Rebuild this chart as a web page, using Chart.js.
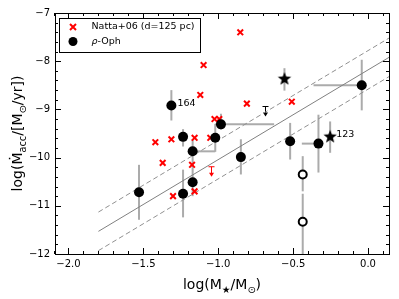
<!DOCTYPE html>
<html lang="en">
<head>
<meta charset="UTF-8">
<title>Accretion rate vs stellar mass</title>
<script src="https://cdn.jsdelivr.net/npm/chart.js"></script>
<style>
  html, body { margin: 0; padding: 0; background: #fff; }
  #wrap { width: 399px; height: 299px; position: relative; }
</style>
</head>
<body>
<div id="wrap"><canvas id="chart"></canvas></div>
<script>
// axis ticks
const xTickVals = [-2.0, -1.5, -1.0, -0.5, 0.0];
const yTickVals = [-12, -11, -10, -9, -8, -7];

// Natta+06 (d=125 pc) - red crosses
const nattaX = [-0.853, -1.098, -1.12, -0.809, -0.509, -1.025, -0.993, -1.42, -1.313, -1.158, -1.053, -1.371, -1.175, -1.302, -1.158];
const nattaY = [-7.40, -8.08, -8.70, -8.88, -8.84, -9.20, -9.20, -9.68, -9.62, -9.59, -9.59, -10.11, -10.15, -10.80, -10.70];
// Natta upper limit
const nattaLimX = [-1.049];
const nattaLimY = [-10.19];

// rho-Oph filled dots with error bars
const ophX   = [-1.313, -1.235, -0.982, -1.02, -1.171, -1.171, -1.529, -1.235, -0.849, -0.52, -0.331, -0.042];
const ophY   = [-8.92, -9.57, -9.31, -9.59, -9.87, -10.51, -10.72, -10.75, -9.99, -9.66, -9.71, -8.50];
const ophYLo = [-9.23, -9.77, -9.42, -9.88, -10.2, -10.8, -11.29, -11.24, -10.35, -10.04, -10.31, -9.02];
const ophYHi = [-8.60, -9.41, -9.09, -9.30, -9.63, -10.2, -10.15, -10.25, -9.62, -9.28, -9.11, -7.97];
const ophXLo = [null, null, -1.02, null, -1.171, null, null, null, null, null, -0.442, -0.364];
const ophXHi = [null, null, -0.627, null, -1.02, null, null, null, null, null, -0.331, -0.042];

// open circles
const openX   = [-0.436, -0.436];
const openY   = [-10.35, -11.33];
const openYLo = [-10.7, -12.2];
const openYHi = [-9.97, -10.75];

// stars
const starX   = [-0.558, -0.253];
const starY   = [-8.37, -9.57];
const starYLo = [-8.61, -9.90];
const starYHi = [-8.145, -9.25];

// rho-Oph upper limit
const ophLimX = [-0.687];
const ophLimY = [-8.94];

// labelled objects
const labelText = ['164', '123'];
const labelX = [-1.313, -0.253];
const labelY = [-8.92, -9.57];

// fit and scatter band
const fitX = [-1.8, 0.14];
const fitY = [-11.53, -7.92];
const fitUpY = [-11.13, -7.52];
const fitLoY = [-11.93, -8.32];

const pts = (xs, ys) => xs.map((x, i) => ({x: x, y: ys[i]}));

// filled star marker
function makeStar(r) {
  const c = document.createElement('canvas');
  const s = Math.ceil(r * 2 + 2);
  c.width = s; c.height = s;
  const g = c.getContext('2d');
  g.fillStyle = '#000';
  g.beginPath();
  for (let i = 0; i < 10; i++) {
    const rr = i % 2 === 0 ? r : r * 0.42;
    const a = -Math.PI / 2 + i * Math.PI / 5;
    const px = s / 2 + rr * Math.cos(a), py = s / 2 + rr * Math.sin(a);
    if (i === 0) g.moveTo(px, py); else g.lineTo(px, py);
  }
  g.closePath();
  g.fill();
  return c;
}
const starImg = makeStar(7);

const fmt = v => (v < 0 ? '\u2212' : '') + Math.abs(v).toFixed(1);
const fmtY = v => (v < 0 ? '\u2212' : '') + Math.abs(v).toFixed(0);

// draw text with subscript parts
function richWidth(ctx, parts, size) {
  let w = 0;
  parts.forEach(p => {
    ctx.font = (p.sub ? size * 0.7 : size) + 'px "DejaVu Sans"';
    w += ctx.measureText(p.t).width;
  });
  return w;
}
function drawRich(ctx, parts, size) {
  const w = richWidth(ctx, parts, size);
  let x = -w / 2;
  parts.forEach(p => {
    ctx.font = (p.sub ? size * 0.7 : size) + 'px "DejaVu Sans"';
    ctx.fillText(p.t, x, p.sub ? size * 0.28 : 0);
    x += ctx.measureText(p.t).width;
  });
}

const extras = {
  id: 'extras',
  beforeDatasetsDraw(chart) {
    const {ctx, chartArea: a, scales: {x, y}} = chart;
    ctx.save();
    ctx.beginPath();
    ctx.rect(a.left, a.top, a.right - a.left, a.bottom - a.top);
    ctx.clip();
    ctx.strokeStyle = '#ababab';
    ctx.lineWidth = 2;
    const vbar = (xv, lo, hi) => {
      ctx.beginPath();
      ctx.moveTo(x.getPixelForValue(xv), y.getPixelForValue(lo));
      ctx.lineTo(x.getPixelForValue(xv), y.getPixelForValue(hi));
      ctx.stroke();
    };
    const hbar = (yv, lo, hi) => {
      ctx.beginPath();
      ctx.moveTo(x.getPixelForValue(lo), y.getPixelForValue(yv));
      ctx.lineTo(x.getPixelForValue(hi), y.getPixelForValue(yv));
      ctx.stroke();
    };
    ophX.forEach((xv, i) => {
      vbar(xv, ophYLo[i], ophYHi[i]);
      if (ophXLo[i] !== null) hbar(ophY[i], ophXLo[i], ophXHi[i]);
    });
    openX.forEach((xv, i) => vbar(xv, openYLo[i], openYHi[i]));
    starX.forEach((xv, i) => vbar(xv, starYLo[i], starYHi[i]));

    // upper limit arrows
    const arrow = (xv, yv, col) => {
      const px = Math.round(x.getPixelForValue(xv)) + 0.5, py = y.getPixelForValue(yv);
      ctx.strokeStyle = col; ctx.fillStyle = col; ctx.lineWidth = 1;
      ctx.beginPath();
      ctx.moveTo(px - 3, py); ctx.lineTo(px + 3, py);
      ctx.moveTo(px, py); ctx.lineTo(px, py + 7);
      ctx.stroke();
      ctx.beginPath();
      ctx.moveTo(px - 2.5, py + 6); ctx.lineTo(px + 2.5, py + 6); ctx.lineTo(px, py + 10);
      ctx.closePath(); ctx.fill();
    };
    nattaLimX.forEach((xv, i) => arrow(xv, nattaLimY[i], '#ff0000'));
    ophLimX.forEach((xv, i) => arrow(xv, ophLimY[i], '#000000'));
    ctx.restore();
  },
  afterDraw(chart) {
    const {ctx, chartArea: a, scales: {x, y}} = chart;
    ctx.save();
    // frame
    ctx.strokeStyle = '#000';
    ctx.lineWidth = 1;
    ctx.strokeRect(Math.round(a.left) + 0.5, Math.round(a.top) + 0.5, Math.round(a.right - a.left), Math.round(a.bottom - a.top));
    // inward ticks
    const tick = (isX, v, len) => {
      ctx.beginPath();
      if (isX) {
        const p = Math.round(x.getPixelForValue(v)) + 0.5;
        ctx.moveTo(p, a.bottom); ctx.lineTo(p, a.bottom - len);
        ctx.moveTo(p, a.top); ctx.lineTo(p, a.top + len);
      } else {
        const p = Math.round(y.getPixelForValue(v)) + 0.5;
        ctx.moveTo(a.left, p); ctx.lineTo(a.left + len, p);
        ctx.moveTo(a.right, p); ctx.lineTo(a.right - len, p);
      }
      ctx.stroke();
    };
    for (let k = -21; k <= 1; k++) tick(true, k / 10, k % 5 === 0 ? 6 : 3);
    for (let k = -60; k <= -35; k++) tick(false, k / 5, k % 5 === 0 ? 6 : 3);

    // text labels next to objects
    ctx.fillStyle = '#000';
    ctx.font = '9.5px "DejaVu Sans"';
    ctx.textBaseline = 'middle';
    ctx.textAlign = 'left';
    labelText.forEach((t, i) => {
      ctx.fillText(t, x.getPixelForValue(labelX[i]) + 6, y.getPixelForValue(labelY[i]) - 2);
    });

    // legend
    const lx = a.left + 4.5, ly = a.top + 5.5;
    ctx.fillStyle = '#fff';
    ctx.fillRect(lx, ly, 141, 34);
    ctx.strokeRect(lx, ly, 141, 34);
    ctx.strokeStyle = '#ff0000';
    ctx.lineWidth = 2;
    const cx = lx + 13.5, cy1 = ly + 8.5, cy2 = ly + 23;
    ctx.beginPath();
    ctx.moveTo(cx - 3, cy1 - 3); ctx.lineTo(cx + 3, cy1 + 3);
    ctx.moveTo(cx - 3, cy1 + 3); ctx.lineTo(cx + 3, cy1 - 3);
    ctx.stroke();
    ctx.fillStyle = '#000';
    ctx.beginPath(); ctx.arc(cx, cy2, 4.5, 0, Math.PI * 2); ctx.fill();
    ctx.font = '9.5px "DejaVu Sans"';
    ctx.fillText('Natta+06 (d=125 pc)', lx + 32, cy1);
    ctx.font = 'italic 9.5px "DejaVu Sans"';
    ctx.fillText('\u03c1', lx + 32, cy2);
    const rw = ctx.measureText('\u03c1').width;
    ctx.font = '9.5px "DejaVu Sans"';
    ctx.fillText('-Oph', lx + 32 + rw, cy2);

    // axis titles
    ctx.textBaseline = 'alphabetic';
    ctx.textAlign = 'left';
    ctx.save();
    ctx.translate((a.left + a.right) / 2, 289);
    drawRich(ctx, [{t: 'log(M'}, {t: '\u2605', sub: true}, {t: '/M'}, {t: '\u2299', sub: true}, {t: ')'}], 14);
    ctx.restore();
    ctx.save();
    ctx.translate(22, (a.top + a.bottom) / 2);
    ctx.rotate(-Math.PI / 2);
    drawRich(ctx, [{t: 'log(\u1e40'}, {t: 'acc', sub: true}, {t: '/[M'}, {t: '\u2299', sub: true}, {t: '/yr])'}], 14);
    ctx.restore();
    ctx.restore();
  }
};

new Chart(document.getElementById('chart'), {
  type: 'scatter',
  data: {
    datasets: [
      { type: 'line', data: pts(fitX, fitY), borderColor: '#808080', borderWidth: 1, pointRadius: 0, fill: false, order: 10 },
      { type: 'line', data: pts(fitX, fitUpY), borderColor: '#909090', borderWidth: 1, borderDash: [5, 3], pointRadius: 0, fill: false, order: 10 },
      { type: 'line', data: pts(fitX, fitLoY), borderColor: '#909090', borderWidth: 1, borderDash: [5, 3], pointRadius: 0, fill: false, order: 10 },
      { label: 'Natta+06 (d=125 pc)', data: pts(nattaX, nattaY), pointStyle: 'crossRot', pointRadius: 4, borderColor: '#ff0000', borderWidth: 2, order: 2 },
      { label: 'rho-Oph', data: pts(ophX, ophY), pointStyle: 'circle', pointRadius: 5, backgroundColor: '#000', borderColor: '#000', borderWidth: 0, order: 1 },
      { data: pts(openX, openY), pointStyle: 'circle', pointRadius: 4, backgroundColor: '#fff', borderColor: '#000', borderWidth: 2, order: 1 },
      { data: pts(starX, starY), pointStyle: starImg, pointRadius: 7, order: 1 }
    ]
  },
  options: {
    responsive: true,
    maintainAspectRatio: false,
    animation: false,
    devicePixelRatio: 1,
    layout: { padding: { top: 13, right: 10, left: 0, bottom: 0 } },
    plugins: { legend: { display: false }, tooltip: { enabled: false } },
    scales: {
      x: {
        type: 'linear', min: -2.09, max: 0.14,
        grid: { display: false, drawTicks: false },
        border: { display: false },
        afterBuildTicks: s => { s.ticks = xTickVals.map(v => ({value: v})); },
        afterFit: s => { s.height = 45; },
        ticks: { padding: 4, color: '#000', font: { family: 'DejaVu Sans', size: 10 }, callback: v => fmt(v), maxRotation: 0 }
      },
      y: {
        type: 'linear', min: -12, max: -7,
        grid: { display: false, drawTicks: false },
        border: { display: false },
        afterBuildTicks: s => { s.ticks = yTickVals.map(v => ({value: v})); },
        afterFit: s => { s.width = 55; },
        ticks: { padding: 5, color: '#000', font: { family: 'DejaVu Sans', size: 10 }, callback: v => fmtY(v) }
      }
    }
  },
  plugins: [extras]
});
</script>
</body>
</html>
